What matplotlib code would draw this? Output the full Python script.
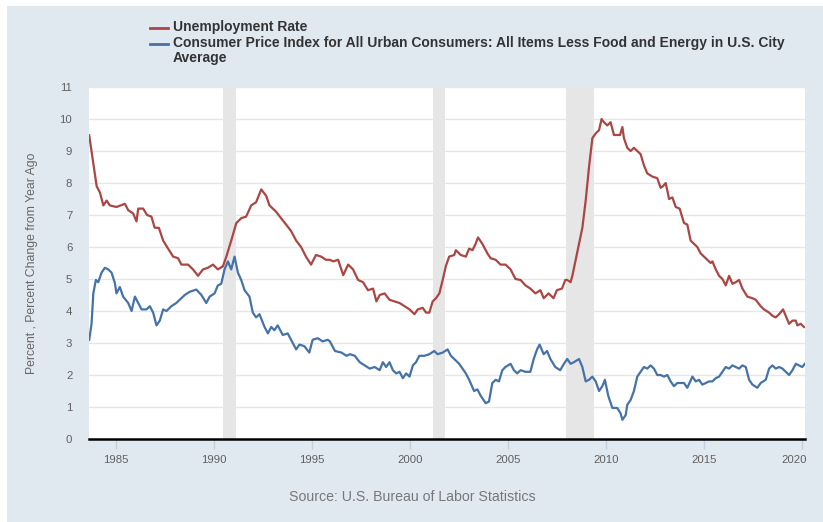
import matplotlib
matplotlib.use("Agg")
import matplotlib.pyplot as plt
from matplotlib.patches import Rectangle
import matplotlib.transforms as mtransforms

# ---------------- data ----------------
unrate_years = [1983.64, 1983.85, 1984.02, 1984.19, 1984.36, 1984.53, 1984.69, 1985.03, 1985.46, 1985.63,
                1985.88, 1986.05, 1986.14, 1986.39, 1986.59, 1986.81, 1986.98, 1987.19, 1987.41, 1987.66,
                1987.92, 1988.17, 1988.34, 1988.68, 1988.93, 1989.19, 1989.44, 1989.69, 1989.95, 1990.20,
                1990.46, 1990.63, 1990.88, 1991.14, 1991.39, 1991.64, 1991.90, 1992.15, 1992.41, 1992.66,
                1992.83, 1993.17, 1993.42, 1993.68, 1993.93, 1994.19, 1994.44, 1994.69, 1994.95, 1995.20,
                1995.46, 1995.71, 1995.91, 1996.08, 1996.33, 1996.59, 1996.84, 1997.09, 1997.35, 1997.60,
                1997.85, 1998.11, 1998.28, 1998.45, 1998.70, 1998.95, 1999.21, 1999.46, 1999.71, 1999.97,
                2000.22, 2000.39, 2000.64, 2000.81, 2000.98, 2001.15, 2001.32, 2001.49, 2001.66, 2001.82,
                2001.99, 2002.25, 2002.33, 2002.58, 2002.84, 2003.01, 2003.18, 2003.34, 2003.46, 2003.68,
                2003.94, 2004.10, 2004.36, 2004.61, 2004.86, 2005.12, 2005.37, 2005.63, 2005.88, 2006.13,
                2006.39, 2006.64, 2006.81, 2007.06, 2007.31, 2007.48, 2007.74, 2007.91, 2008.01, 2008.18,
                2008.27, 2008.44, 2008.61, 2008.78, 2008.95, 2009.12, 2009.29, 2009.46, 2009.63, 2009.76,
                2009.88, 2010.05, 2010.22, 2010.39, 2010.56, 2010.70, 2010.82, 2010.90, 2011.07, 2011.24,
                2011.41, 2011.58, 2011.75, 2011.92, 2012.09, 2012.35, 2012.60, 2012.77, 2012.89, 2013.03,
                2013.20, 2013.37, 2013.54, 2013.74, 2013.96, 2014.13, 2014.30, 2014.47, 2014.64, 2014.81,
                2014.98, 2015.15, 2015.32, 2015.41, 2015.58, 2015.75, 2015.92, 2016.09, 2016.26, 2016.43,
                2016.60, 2016.77, 2016.94, 2017.19, 2017.45, 2017.62, 2017.87, 2018.04, 2018.30, 2018.47,
                2018.64, 2018.81, 2019.01, 2019.15, 2019.32, 2019.49, 2019.66, 2019.74, 2019.91, 2020.08]
unrate_values = [9.49, 8.6, 7.9, 7.7, 7.3, 7.45, 7.3, 7.25, 7.35, 7.15,
                 7.05, 6.8, 7.2, 7.2, 7.0, 6.95, 6.6, 6.6, 6.2, 5.95,
                 5.7, 5.65, 5.45, 5.45, 5.3, 5.1, 5.3, 5.35, 5.45, 5.3,
                 5.4, 5.7, 6.2, 6.75, 6.9, 6.95, 7.3, 7.4, 7.8, 7.6,
                 7.3, 7.1, 6.9, 6.7, 6.5, 6.2, 6.0, 5.7, 5.45, 5.75,
                 5.7, 5.6, 5.6, 5.55, 5.6, 5.12, 5.45, 5.3, 4.97, 4.9,
                 4.65, 4.7, 4.3, 4.5, 4.55, 4.35, 4.3, 4.25, 4.15, 4.05,
                 3.9, 4.05, 4.1, 3.95, 3.95, 4.3, 4.4, 4.55, 4.97, 5.4,
                 5.7, 5.75, 5.9, 5.75, 5.7, 5.95, 5.9, 6.1, 6.3, 6.1,
                 5.8, 5.65, 5.6, 5.45, 5.45, 5.3, 5.0, 4.97, 4.8, 4.7,
                 4.55, 4.65, 4.4, 4.55, 4.4, 4.65, 4.7, 4.97, 4.97, 4.9,
                 5.1, 5.6, 6.1, 6.6, 7.45, 8.5, 9.4, 9.55, 9.65, 10.0,
                 9.9, 9.8, 9.9, 9.5, 9.5, 9.5, 9.75, 9.4, 9.1, 9.0,
                 9.1, 9.0, 8.9, 8.55, 8.3, 8.2, 8.15, 7.85, 7.9, 8.0,
                 7.5, 7.55, 7.25, 7.2, 6.75, 6.7, 6.2, 6.1, 6.0, 5.8,
                 5.7, 5.6, 5.5, 5.55, 5.3, 5.1, 5.0, 4.8, 5.1, 4.85,
                 4.9, 4.97, 4.7, 4.45, 4.4, 4.35, 4.15, 4.05, 3.95, 3.85,
                 3.8, 3.9, 4.05, 3.85, 3.6, 3.7, 3.7, 3.55, 3.6, 3.5]

cpi_years = [1983.64, 1983.76, 1983.85, 1983.98, 1984.10, 1984.27, 1984.44, 1984.61, 1984.78, 1984.95,
             1985.03, 1985.20, 1985.37, 1985.63, 1985.80, 1985.97, 1986.14, 1986.31, 1986.56, 1986.73,
             1986.90, 1987.07, 1987.24, 1987.41, 1987.58, 1987.83, 1988.08, 1988.25, 1988.51, 1988.76,
             1989.10, 1989.36, 1989.61, 1989.78, 1990.03, 1990.20, 1990.37, 1990.54, 1990.71, 1990.88,
             1991.05, 1991.22, 1991.39, 1991.56, 1991.81, 1991.98, 1992.15, 1992.32, 1992.58, 1992.75,
             1992.92, 1993.08, 1993.25, 1993.51, 1993.76, 1994.02, 1994.19, 1994.36, 1994.61, 1994.86,
             1995.03, 1995.29, 1995.54, 1995.80, 1995.91, 1996.17, 1996.50, 1996.76, 1996.93, 1997.18,
             1997.43, 1997.69, 1997.94, 1998.19, 1998.45, 1998.61, 1998.78, 1998.95, 1999.12, 1999.29,
             1999.46, 1999.63, 1999.80, 1999.97, 2000.14, 2000.30, 2000.47, 2000.73, 2000.98, 2001.23,
             2001.40, 2001.66, 2001.91, 2002.08, 2002.25, 2002.50, 2002.67, 2002.84, 2003.01, 2003.26,
             2003.43, 2003.60, 2003.85, 2004.02, 2004.19, 2004.36, 2004.53, 2004.70, 2004.86, 2005.12,
             2005.29, 2005.46, 2005.63, 2005.88, 2006.13, 2006.30, 2006.47, 2006.60, 2006.81, 2006.98,
             2007.15, 2007.40, 2007.65, 2007.84, 2008.01, 2008.18, 2008.35, 2008.61, 2008.78, 2008.95,
             2009.12, 2009.29, 2009.46, 2009.63, 2009.80, 2009.93, 2010.10, 2010.31, 2010.56, 2010.73,
             2010.82, 2010.99, 2011.07, 2011.24, 2011.41, 2011.58, 2011.75, 2011.92, 2012.09, 2012.26,
             2012.43, 2012.60, 2012.77, 2012.94, 2013.11, 2013.28, 2013.45, 2013.62, 2013.79, 2013.96,
             2014.13, 2014.39, 2014.56, 2014.73, 2014.90, 2015.07, 2015.24, 2015.41, 2015.58, 2015.75,
             2015.92, 2016.09, 2016.26, 2016.43, 2016.60, 2016.77, 2016.94, 2017.11, 2017.28, 2017.45,
             2017.70, 2017.87, 2018.13, 2018.30, 2018.47, 2018.64, 2018.81, 2018.98, 2019.15, 2019.32,
             2019.49, 2019.66, 2019.83, 2019.99, 2020.12]
cpi_values = [3.1, 3.6, 4.55, 4.97, 4.9, 5.2, 5.35, 5.3, 5.2, 4.87,
              4.55, 4.75, 4.45, 4.25, 4.0, 4.45, 4.25, 4.05, 4.05, 4.15,
              3.95, 3.55, 3.7, 4.05, 4.0, 4.15, 4.25, 4.35, 4.5, 4.6,
              4.67, 4.5, 4.25, 4.45, 4.55, 4.8, 4.85, 5.3, 5.55, 5.3,
              5.7, 5.2, 4.97, 4.65, 4.45, 3.95, 3.8, 3.9, 3.5, 3.3,
              3.5, 3.4, 3.55, 3.25, 3.3, 3.0, 2.8, 2.95, 2.9, 2.7,
              3.1, 3.15, 3.05, 3.1, 3.05, 2.75, 2.7, 2.6, 2.65, 2.6,
              2.4, 2.3, 2.2, 2.25, 2.15, 2.4, 2.25, 2.4, 2.15, 2.05,
              2.1, 1.9, 2.05, 1.95, 2.3, 2.4, 2.6, 2.6, 2.65, 2.75,
              2.65, 2.7, 2.8, 2.6, 2.5, 2.35, 2.2, 2.05, 1.85, 1.5,
              1.55, 1.35, 1.12, 1.17, 1.75, 1.85, 1.8, 2.15, 2.25, 2.35,
              2.15, 2.05, 2.15, 2.1, 2.1, 2.5, 2.8, 2.95, 2.65, 2.75,
              2.5, 2.25, 2.15, 2.35, 2.5, 2.35, 2.4, 2.5, 2.25, 1.8,
              1.85, 1.95, 1.8, 1.5, 1.65, 1.85, 1.35, 0.97, 0.97, 0.8,
              0.6, 0.75, 1.07, 1.22, 1.5, 1.95, 2.1, 2.25, 2.2, 2.3,
              2.2, 2.0, 2.0, 1.95, 2.0, 1.8, 1.65, 1.75, 1.75, 1.75,
              1.6, 1.95, 1.8, 1.85, 1.7, 1.75, 1.8, 1.8, 1.9, 1.95,
              2.1, 2.25, 2.2, 2.3, 2.25, 2.2, 2.3, 2.25, 1.85, 1.7,
              1.6, 1.75, 1.85, 2.2, 2.3, 2.2, 2.25, 2.2, 2.1, 2.0,
              2.15, 2.35, 2.3, 2.25, 2.35]

recession_starts = [1990.46, 2001.19, 2007.95]
recession_ends = [1991.11, 2001.80, 2009.39]

x_ticks = [1985, 1990, 1995, 2000, 2005, 2010, 2015, 2020]
x_tick_labels = ["1985", "1990", "1995", "2000", "2005", "2010", "2015", "2020"]
y_ticks = list(range(0, 12))

series_names = ["Unemployment Rate",
                "Consumer Price Index for All Urban Consumers: All Items Less Food and Energy in U.S. City\nAverage"]
y_label = "Percent , Percent Change from Year Ago"
source_text = "Source: U.S. Bureau of Labor Statistics"

# ---------------- styling ----------------
W, H = 823, 522
RED = "#AA4643"
BLUE = "#4572A7"
BG = "#E1E9F0"
plt.rcParams['font.family'] = ['Liberation Sans', 'DejaVu Sans']

fig = plt.figure(figsize=(W / 100, H / 100), dpi=100)
fig.patch.set_facecolor("white")
fig.patches.append(Rectangle((7 / W, 0), 1 - 7 / W, 1 - 6 / H, transform=fig.transFigure,
                             facecolor=BG, edgecolor="none", zorder=-10))

left, right, top, bottom = 89, 805, 87, 439
ax = fig.add_axes([left / W, 1 - bottom / H, (right - left) / W, (bottom - top) / H])
ax.set_zorder(1)
ax.set_facecolor("white")

for s, e in zip(recession_starts, recession_ends):
    ax.axvspan(s, e, color="#E6E6E6", lw=0, zorder=1)

for yv in y_ticks[1:]:
    ax.axhline(yv, color="#E6E6E6", lw=1.0, zorder=1.5)

ax.plot(unrate_years, unrate_values, color=RED, lw=1.6, zorder=3, label=series_names[0])
ax.plot(cpi_years, cpi_values, color=BLUE, lw=1.6, zorder=3, label=series_names[1])

ax.set_xlim(1983.63, 2020.13)
ax.set_ylim(0, 11)

for sp in ["top", "right", "left"]:
    ax.spines[sp].set_visible(False)
ax.spines["bottom"].set_color("black")
ax.spines["bottom"].set_linewidth(1.8)
ax.spines["bottom"].set_zorder(4)

ax.set_yticks(y_ticks)
ax.set_yticklabels([str(v) for v in y_ticks])
ax.tick_params(axis="y", length=0, pad=12, labelsize=8.2, labelcolor="#606060")
ax.set_xticks(x_ticks)
ax.set_xticklabels(x_tick_labels)
ax.tick_params(axis="x", length=7.2, width=1, color="#C0D0E0", pad=4,
               labelsize=8.2, labelcolor="#606060")
last = ax.get_xticklabels()[-1]
last.set_horizontalalignment("right")
last.set_transform(last.get_transform() + mtransforms.ScaledTranslation(3 / 72, 0, fig.dpi_scale_trans))

fig.text(32 / W, 1 - 263 / H, y_label, rotation=90, ha="center", va="center",
         fontsize=8.8, color="#666666")
fig.text(412 / W, 1 - 497 / H, source_text, ha="center", va="center",
         fontsize=10.2, color="#777777")

# legend (drawn manually to match layout)
legend_y = [28, 44]
for name, color, ly in zip(series_names, [RED, BLUE], legend_y):
    fig.add_artist(plt.Line2D([150 / W, 168 / W], [1 - ly / H, 1 - ly / H],
                              transform=fig.transFigure, color=color, lw=2))
    fig.text(173 / W, 1 - (ly - 7.5) / H, name, ha="left", va="top", fontsize=10,
             fontweight="bold", color="#333333", linespacing=1.05)

fig.savefig("out.png", dpi=100, facecolor=fig.get_facecolor())
